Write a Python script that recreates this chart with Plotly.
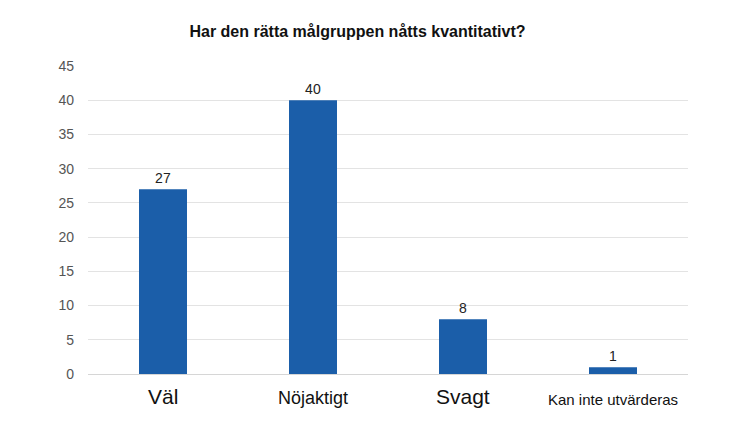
import plotly.graph_objects as go

categories = ["Väl", "Nöjaktigt", "Svagt", "Kan inte utvärderas"]
values = [27, 40, 8, 1]
label_sizes = [21, 18, 21, 15]
y_ticks = [0, 5, 10, 15, 20, 25, 30, 35, 40, 45]

FONT = "Liberation Sans, Arial, sans-serif"
# page body has an 8px margin, margins compensate
fig = go.Figure(go.Bar(
    x=categories, y=values,
    marker=dict(color="#1b5ea9", line=dict(width=0)),
    text=[str(v) for v in values], textposition="outside",
    textfont=dict(family=FONT, size=14, color="#222222"),
    cliponaxis=False, width=0.32,
))

baseline_below = 29.5
for c, s in zip(categories, label_sizes):
    fig.add_annotation(x=c, xref="x", y=0, yref="paper", yanchor="top",
                       yshift=-(baseline_below - 0.905 * s - 1),
                       text=c, showarrow=False,
                       font=dict(family=FONT, size=s, color="#111111"))

fig.update_layout(
    width=750, height=436,
    margin=dict(l=80, r=70, t=58, b=70),
    paper_bgcolor="white", plot_bgcolor="white",
    font=dict(family=FONT, color="#222222"),
    title=dict(text="<b>Har den rätta målgruppen nåtts kvantitativt?</b>",
               x=0.466, xanchor="center", y=0.947, yanchor="middle",
               font=dict(size=16, color="#111111")),
    showlegend=False,
)
fig.update_xaxes(showticklabels=False, showgrid=False, showline=False,
                 ticks="", automargin=False)
fig.update_yaxes(range=[0, 45], tickvals=y_ticks, showgrid=True,
                 gridcolor="#e3e3e3", gridwidth=1, zeroline=True,
                 zerolinecolor="#d6d6d6", zerolinewidth=1,
                 tickfont=dict(family=FONT, size=14, color="#555555"), ticks="",
                 ticklabelstandoff=13, automargin=False)
fig.write_html("out.html")
